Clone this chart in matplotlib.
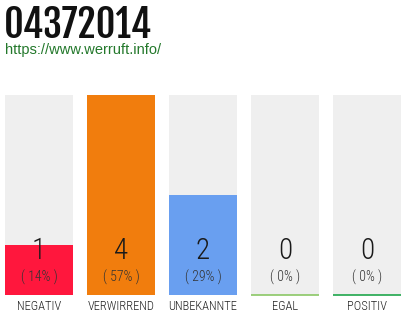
import matplotlib
matplotlib.use("Agg")
import matplotlib.pyplot as plt

# ── data ──────────────────────────────────────────────────────────────────────
TITLE      = "04372014"
URL        = "https://www.werruft.info/"
CATEGORIES = ["NEGATIV", "VERWIRREND", "UNBEKANNTE", "EGAL", "POSITIV"]
COUNTS     = [1, 4, 2, 0, 0]
PERCENTS   = ["( 14% )", "( 57% )", "( 29% )", "( 0% )", "( 0% )"]
COLORS     = ["#ff173d", "#f17d0d", "#699ff0", "#8bc765", "#1fa64b"]
BG         = "#efefef"

# ── fonts ─────────────────────────────────────────────────────────────────────
HEAD   = ["Fjalla One", "Oswald", "DejaVu Sans"]
NARROW = ["Roboto Condensed", "DejaVu Sans"]
SANS   = ["Liberation Sans", "DejaVu Sans"]

W, H = 410, 320
fig = plt.figure(figsize=(W / 100, H / 100), dpi=100)

# title + url
fig.text(4 / W, 1 - 38 / H, TITLE, fontsize=27.5,
         family=HEAD, color="#111111", va="baseline", ha="left")
fig.text(5 / W, 1 - 54 / H, URL, fontsize=10.5, family=SANS,
         color="#23782b", va="baseline", ha="left")

# bars
ymax = max(COUNTS)
ax = fig.add_axes([0, 25 / H, 1, 200 / H])
ax.set_xlim(-39 / 82, (W - 39) / 82)
ax.set_ylim(0, ymax)
ax.axis("off")

x = range(len(CATEGORIES))
width = 68 / 82
ax.bar(x, [ymax] * len(CATEGORIES), width, color=BG, linewidth=0)
ax.bar(x, COUNTS, width, color=COLORS, linewidth=0)

for i, (n, p, cat, c) in enumerate(zip(COUNTS, PERCENTS, CATEGORIES, COLORS)):
    if n == 0:
        ax.plot([i - width / 2, i + width / 2], [0, 0], color=c, lw=1.2,
                solid_capstyle="butt", clip_on=False)
    ax.text(i, 0.88, str(n), ha="center", va="center", fontsize=21,
            family=NARROW, fontweight=300, color="#1a1a1a")
    ax.text(i, 0.36, p, ha="center", va="center", fontsize=10,
            family=NARROW, fontweight=300, color="#333333")
    ax.text(i, -0.23, cat, ha="center", va="center", fontsize=9,
            family=NARROW, fontweight=300, color="#222222", clip_on=False)

fig.savefig("out.png", dpi=100)
